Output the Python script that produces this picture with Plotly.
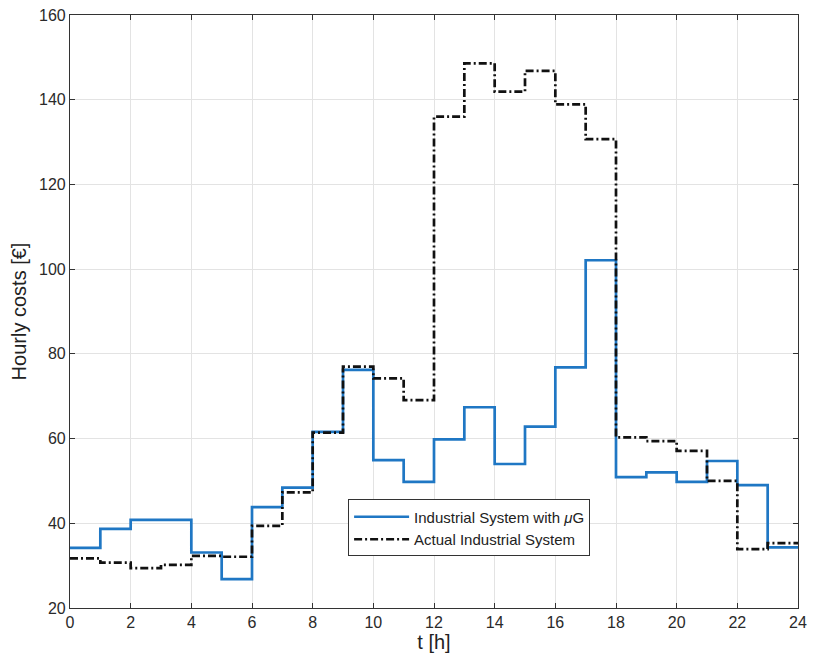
import plotly.graph_objects as go

hours = list(range(25))
with_ug = [34.2, 38.7, 40.8, 40.8, 33.1, 26.8, 43.8, 48.4, 61.6, 76.2, 54.9, 49.8,
           59.8, 67.4, 54.0, 62.8, 76.8, 102.1, 50.9, 52.0, 49.8, 54.7, 49.0, 34.3]
actual = [31.7, 30.7, 29.4, 30.2, 32.3, 32.1, 39.4, 47.3, 61.4, 77.0, 74.2, 69.1,
          136.0, 148.6, 141.9, 146.8, 138.9, 130.7, 60.3, 59.4, 57.1, 50.0, 33.9, 35.3]
x_ticks = list(range(0, 25, 2))
y_ticks = list(range(20, 161, 20))

FONT = "Liberation Sans, Arial"

fig = go.Figure()
fig.add_trace(go.Scatter(x=hours, y=with_ug + [with_ug[-1]], mode="lines", line_shape="hv",
                         name="Industrial System with <i>μ</i>G",
                         line=dict(color="#1f77c4", width=2.7)))
fig.add_trace(go.Scatter(x=hours, y=actual + [actual[-1]], mode="lines", line_shape="hv",
                         name="Actual Industrial System",
                         line=dict(color="#111111", width=2.7, dash="8px,3px,2px,3px")))

axis_common = dict(showgrid=True, gridcolor="#e3e3e3", gridwidth=1, showline=True,
                   linecolor="#333333", linewidth=1.2, mirror="ticks", ticks="inside",
                   ticklen=5, tickcolor="#333333", zeroline=False, automargin=False,
                   ticklabeloverflow="allow",
                   tickfont=dict(family=FONT, size=16, color="#2a2a2a"))
fig.update_xaxes(range=[0, 24], tickvals=x_ticks, title=dict(text="t [h]", standoff=3,
                 font=dict(family=FONT, size=20, color="#222222")), **axis_common)
fig.update_yaxes(range=[20, 160], tickvals=y_ticks, title=dict(text="Hourly costs [€]", standoff=7,
                 font=dict(family=FONT, size=20, color="#222222")), **axis_common)

fig.update_layout(width=808, height=655, margin=dict(l=62, r=18, t=7, b=55),
                  plot_bgcolor="white", paper_bgcolor="white",
                  legend=dict(x=0.382, y=0.183, xanchor="left", yanchor="top",
                              bgcolor="white", bordercolor="#333333", borderwidth=1,
                              font=dict(family=FONT, size=15, color="#222222"),
                              tracegroupgap=0, itemwidth=55),
                  font=dict(family=FONT))
fig.write_html("out.html")
